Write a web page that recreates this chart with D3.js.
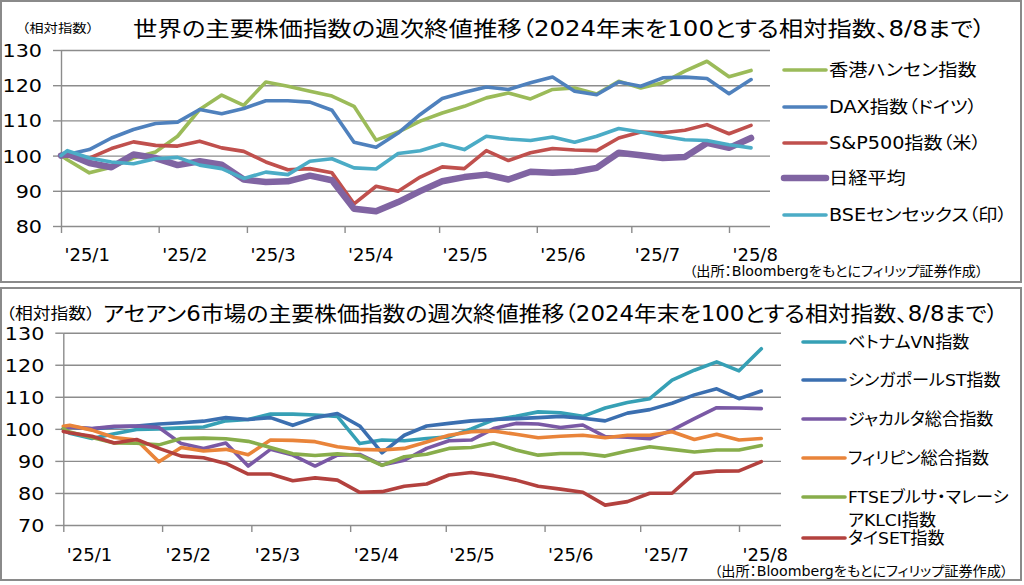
<!DOCTYPE html>
<html>
<head>
<meta charset="utf-8">
<script src="https://cdn.jsdelivr.net/npm/d3@7"></script>
<style>
  body { margin: 0; background: #fff; }
  svg text { font-family: "DejaVu Sans", "Noto Sans CJK JP", sans-serif; font-feature-settings: "palt"; fill: #000; }
</style>
</head>
<body>
<div class="chart"></div>
<script>
// weekly closes, 2024 year-end = 100 (first entry is the base)
const dates = ["2025-01-01", "2025-01-03", "2025-01-10", "2025-01-17", "2025-01-24", "2025-01-31",
  "2025-02-07", "2025-02-14", "2025-02-21", "2025-02-28", "2025-03-07", "2025-03-14", "2025-03-21",
  "2025-03-28", "2025-04-04", "2025-04-11", "2025-04-18", "2025-04-25", "2025-05-02", "2025-05-09",
  "2025-05-16", "2025-05-23", "2025-05-30", "2025-06-06", "2025-06-13", "2025-06-20", "2025-06-27",
  "2025-07-04", "2025-07-11", "2025-07-18", "2025-07-25", "2025-08-01", "2025-08-08"];
const monthTicks = ["2025-01-01", "2025-02-01", "2025-03-01", "2025-04-01", "2025-05-01", "2025-06-01", "2025-07-01", "2025-08-01"];
const monthLabels = ["'25/1", "'25/2", "'25/3", "'25/4", "'25/5", "'25/6", "'25/7", "'25/8"];

// world indices
const worldNames = ["香港ハンセン指数", "DAX指数（ドイツ）", "S&P500指数（米）", "日経平均", "BSEセンセックス（印）"];
const hangSeng = [100, 98.8, 95.1, 96.7, 99.3, 101.0, 105.5, 113.1, 117.2, 114.3, 120.9, 119.7, 118.3, 116.9, 114.0, 104.4, 106.7,
  109.8, 112.1, 114.0, 116.4, 117.8, 116.1, 118.8, 119.2, 117.5, 121.1, 119.2, 120.7, 124.0, 126.8, 122.4, 124.2];
const dax = [100, 100.3, 101.7, 105.0, 107.4, 109.1, 109.5, 113.1, 111.9, 113.4, 115.6, 115.6, 115.2, 112.9, 103.8, 102.4, 106.4,
  111.7, 116.2, 118.0, 119.5, 118.8, 120.7, 122.3, 118.3, 117.3, 120.9, 119.7, 122.1, 122.3, 121.9, 117.6, 121.6];
const sp500 = [100, 99.8, 99.3, 102.0, 103.9, 102.9, 102.7, 104.1, 102.2, 101.2, 98.2, 96.0, 96.3, 95.1, 86.3, 91.3, 89.9,
  93.9, 96.8, 96.3, 101.4, 98.6, 100.8, 102.0, 101.6, 101.4, 105.0, 106.7, 106.5, 107.2, 108.8, 106.2, 108.6];
const nikkei = [100, 100.5, 97.9, 96.7, 100.3, 99.3, 97.3, 98.4, 97.4, 93.2, 92.5, 92.7, 94.3, 93.0, 84.9, 84.2, 86.8,
  89.9, 92.7, 93.9, 94.6, 93.2, 95.4, 95.1, 95.4, 96.5, 100.8, 100.1, 99.3, 99.6, 103.6, 102.2, 105.0];
const sensex = [100, 101.4, 99.3, 98.2, 97.7, 99.1, 99.5, 97.3, 96.3, 93.5, 95.3, 94.6, 98.4, 99.1, 96.5, 96.2, 100.6,
  101.4, 103.3, 101.7, 105.5, 104.7, 104.3, 105.3, 103.8, 105.5, 107.7, 106.7, 105.5, 104.5, 104.3, 103.1, 102.2];

// ASEAN indices
const aseanNames = ["ベトナムVN指数", "シンガポールST指数", "ジャカルタ総合指数", "フィリピン総合指数", ["FTSEブルサ・マレーシ", "アKLCI指数"], "タイSET指数"];
const vn = [100, 98.6, 97.0, 98.5, 99.8, 100.0, 100.3, 100.6, 102.5, 102.9, 104.6, 104.6, 104.3, 103.9, 95.4, 96.5, 96.3,
  97.0, 97.5, 100.0, 102.8, 103.9, 105.3, 105.0, 103.9, 106.5, 108.2, 109.4, 115.2, 118.3, 120.9, 118.1, 125.0];
const sti = [100, 100.6, 100.0, 100.6, 100.9, 101.5, 101.9, 102.4, 103.5, 102.9, 103.5, 101.1, 103.5, 104.8, 100.9, 92.5, 98.0,
  100.9, 101.7, 102.5, 102.9, 103.2, 103.5, 103.9, 103.3, 102.5, 104.9, 106.0, 108.0, 110.6, 112.5, 109.4, 111.8];
const jci = [100, 100.6, 100.1, 100.8, 100.9, 100.4, 95.4, 93.9, 95.6, 88.4, 93.6, 91.8, 88.4, 91.8, 92.0, 88.7, 90.2,
  93.9, 96.3, 96.5, 100.1, 101.7, 101.5, 100.4, 101.2, 97.6, 97.4, 96.9, 99.6, 103.2, 106.6, 106.5, 106.3];
const psei = [100.8, 101.1, 99.6, 97.3, 96.5, 89.7, 94.2, 93.1, 93.6, 91.9, 96.5, 96.4, 96.0, 94.4, 93.6, 93.4, 93.9,
  95.9, 98.0, 99.1, 99.3, 98.3, 97.2, 97.7, 98.0, 97.2, 98.0, 98.0, 99.1, 96.7, 98.3, 96.5, 97.0];
const klci = [100, 99.0, 97.3, 95.6, 95.5, 95.0, 97.0, 97.1, 96.9, 96.1, 94.2, 92.2, 91.7, 92.2, 91.7, 88.6, 91.3,
  92.1, 93.9, 94.2, 95.6, 93.4, 91.8, 92.3, 92.3, 91.5, 93.1, 94.4, 93.6, 92.8, 93.4, 93.4, 94.8];
const setIdx = [99.2, 98.8, 97.7, 95.6, 96.7, 93.9, 91.5, 91.0, 89.2, 85.9, 85.9, 83.8, 84.7, 84.0, 80.2, 80.4, 82.1,
  82.8, 85.6, 86.4, 85.4, 84.0, 82.1, 81.2, 80.2, 76.2, 77.3, 79.9, 79.9, 86.1, 86.8, 86.9, 89.8];

const SX = 1.15;   // text in the source image is stretched sideways
const parse = d3.timeParse("%Y-%m-%d");

const svg = d3.select(".chart").append("svg")
    .attr("width", 1024)
    .attr("height", 585);

const txt = (g, x, y, s, size, anchor, sx) => g.append("text")
    .attr("transform", `translate(${x},${y}) scale(${sx || SX},1)`)
    .attr("font-size", size)
    .attr("text-anchor", anchor || "start")
    .text(s);

const drawPanel = (p) => {
    const g = svg.append("g");
    g.append("rect")
        .attr("x", 1).attr("y", p.top)
        .attr("width", 1020).attr("height", p.h)
        .attr("fill", "#fff").attr("stroke", "#8a8a8a").attr("stroke-width", 2);

    const x = d3.scaleTime()
        .domain([parse("2025-01-01"), parse("2025-08-01")])
        .range([p.x0, p.x1]);
    const y = d3.scaleLinear()
        .domain(p.yDomain)
        .range([p.y0, p.y1]);

    // grid
    g.append("g")
        .attr("transform", `translate(${p.x0},0)`)
        .call(d3.axisRight(y).tickValues(p.yTicks).tickSize(p.gridEnd - p.x0).tickFormat(""))
        .call(a => a.select(".domain").remove())
        .call(a => a.selectAll("line").attr("stroke", "#8c8c8c").attr("stroke-width", 1.4));

    const yAxis = g.append("g")
        .attr("transform", `translate(${p.x0},0)`)
        .call(d3.axisLeft(y).tickValues(p.yTicks).tickSize(8).tickSizeOuter(0).tickPadding(11));
    yAxis.selectAll("path,line").attr("stroke", "#8c8c8c").attr("stroke-width", 1.4);
    yAxis.selectAll("text")
        .attr("x", null).attr("dy", "0.36em")
        .attr("transform", `translate(-19,0) scale(${SX},1)`)
        .attr("font-size", 18);

    const xAxis = g.append("g")
        .attr("transform", `translate(0,${p.y0})`)
        .call(d3.axisBottom(x).tickValues(monthTicks.map(parse)).tickSize(7).tickSizeOuter(0)
            .tickFormat((d, i) => monthLabels[i]));
    xAxis.select(".domain").remove();
    xAxis.selectAll("line").attr("stroke", "#8c8c8c").attr("stroke-width", 1.4);
    xAxis.selectAll("text")
        .attr("y", null).attr("dy", null)
        .attr("text-anchor", "start")
        .attr("transform", `translate(3,${p.xLabelDy})`)
        .attr("font-size", 18);

    const line = d3.line()
        .x((d, i) => x(parse(dates[i])))
        .y(d => y(d));

    p.series.forEach((s, i) => {
        g.append("path")
            .datum(s.values)
            .attr("d", line)
            .attr("fill", "none")
            .attr("stroke", s.color)
            .attr("stroke-width", s.width)
            .attr("stroke-linejoin", "round")
            .attr("stroke-linecap", "round");

        const ly = p.legendY[i];
        g.append("line")
            .attr("x1", p.legendX).attr("x2", p.legendX + 42)
            .attr("y1", ly).attr("y2", ly)
            .attr("stroke", s.color).attr("stroke-width", s.width)
            .attr("stroke-linecap", "round");
        const names = Array.isArray(s.name) ? s.name : [s.name];
        names.forEach((n, k) => txt(g, p.legendX + 45, ly + 6 + k * 23, n, p.legendSize, "start", p.legendSX));
    });

    p.titles.forEach(t => {
        if (t.w) {
            // fixed width title, no scale transform
            g.append("text")
                .attr("x", t.x).attr("y", t.y)
                .attr("font-size", t.size)
                .attr("textLength", t.w)
                .attr("lengthAdjust", "spacingAndGlyphs")
                .text(t.text);
        } else {
            txt(g, t.x, t.y, t.text, t.size);
        }
    });
    txt(g, p.sourceX, p.sourceY, "（出所：Bloombergをもとにフィリップ証券作成）", 13.5, "end", 1.05);
};

drawPanel({
    top: 1, h: 281,
    x0: 61, x1: 729, gridEnd: 770,
    y0: 226, y1: 50, yDomain: [80, 130], yTicks: [80, 90, 100, 110, 120, 130],
    xLabelDy: 35,
    legendX: 784, legendY: [70, 107, 143, 178, 215], legendSize: 17, legendSX: 1.13,
    sourceX: 983, sourceY: 276,
    titles: [
        {x: 22, y: 33, text: "（相対指数）", size: 12.5},
        {x: 133, y: 36, text: "世界の主要株価指数の週次終値推移（2024年末を100とする相対指数、8/8まで）", size: 21, w: 852}
    ],
    series: [
        {name: worldNames[0], values: hangSeng, color: "#9bbb59", width: 3.6},
        {name: worldNames[1], values: dax, color: "#4f81bd", width: 3.6},
        {name: worldNames[2], values: sp500, color: "#c0504d", width: 3.6},
        {name: worldNames[3], values: nikkei, color: "#8064a2", width: 6.5},
        {name: worldNames[4], values: sensex, color: "#4bacc6", width: 3.6}
    ]
});

drawPanel({
    top: 288, h: 292,
    x0: 63.3, x1: 739, gridEnd: 781,
    y0: 525, y1: 332.7, yDomain: [70, 130], yTicks: [70, 80, 90, 100, 110, 120, 130],
    xLabelDy: 36,
    legendX: 803, legendY: [342, 380, 419, 458, 497, 538], legendSize: 16.5, legendSX: 1.04,
    sourceX: 1008, sourceY: 576,
    titles: [
        {x: 6, y: 319, text: "（相対指数）", size: 15.5},
        {x: 103, y: 321, text: "アセアン6市場の主要株価指数の週次終値推移（2024年末を100とする相対指数、8/8まで）", size: 21, w: 895}
    ],
    series: [
        {name: aseanNames[0], values: vn, color: "#36a0b5", width: 3.6},
        {name: aseanNames[1], values: sti, color: "#3b6fb0", width: 3.6},
        {name: aseanNames[2], values: jci, color: "#7a59a5", width: 3.6},
        {name: aseanNames[3], values: psei, color: "#e9843a", width: 3.6},
        {name: aseanNames[4], values: klci, color: "#88ad4b", width: 3.6},
        {name: aseanNames[5], values: setIdx, color: "#b3413e", width: 3.6}
    ]
});
</script>
</body>
</html>
